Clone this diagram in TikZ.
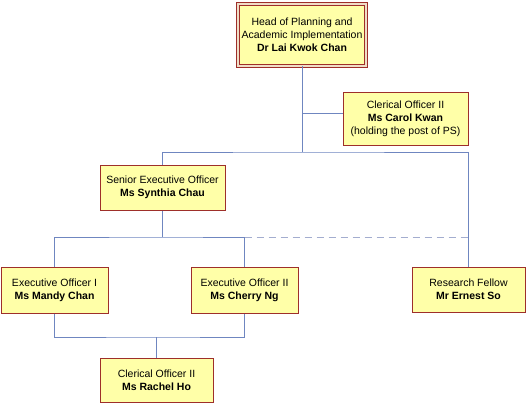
\documentclass[tikz,border=0pt]{standalone}
\usepackage{fontspec}
\setmainfont{Liberation Sans}
\usetikzlibrary{positioning,calc}
\usepackage{xcolor}
\definecolor{orgFill}{HTML}{FFFFA8}
\definecolor{orgRed}{HTML}{9E2F2A}
\definecolor{orgBlue}{HTML}{6F86C0}
\definecolor{orgGrey}{HTML}{A3ADCF}

\begin{document}
\begin{tikzpicture}[x=1pt,y=-1pt]
\tikzstyle{post}=[draw=orgRed,fill=orgFill,line width=1pt,align=center,inner sep=2pt,font=\fontsize{10.5}{13}\selectfont]
\tikzstyle{link}=[draw=orgBlue,line width=1pt]
\useasboundingbox (0,0) rectangle (526,404);
\node[post,minimum width=128pt,minimum height=62pt,double=orgFill!60!orgRed!40,double distance=1.6pt,line width=.9pt] (head) at (302,35) {Head of Planning and\\Academic Implementation\\\textbf{Dr Lai Kwok Chan}};
\node[post,minimum width=125pt,minimum height=53pt] (carol) at (405.5,118.5) {Clerical Officer II\\\textbf{Ms Carol Kwan}\\(holding the post of PS)};
\node[post,minimum width=125pt,minimum height=45pt] (synthia) at (162.5,187.5) {Senior Executive Officer\\\textbf{Ms Synthia Chau}};
\node[post,minimum width=107pt,minimum height=46pt] (mandy) at (54.5,290) {Executive Officer I\\\textbf{Ms Mandy Chan}};
\node[post,minimum width=107pt,minimum height=46pt] (cherry) at (244.5,290) {Executive Officer II\\\textbf{Ms Cherry Ng}};
\node[post,minimum width=113pt,minimum height=45pt] (research) at (468.5,289.5) {Research Fellow\\\textbf{Mr Ernest So}};
\node[post,minimum width=113pt,minimum height=44pt] (rachel) at (156.5,380) {Clerical Officer II\\\textbf{Ms Rachel Ho}};
\coordinate (bus) at (302,152);
\coordinate (jc) at (302,113);
\coordinate (bus2) at (162.5,237);
\coordinate (bus3) at (156.5,337);
% top level
\draw[link] (head.south) -- (bus);
\draw[link] (jc) -- (jc -| carol.west);
\draw[link] (synthia.north) |- (bus) -| (research.north);
% executive officers
\draw[link] (synthia.south) -- (bus2);
\draw[link] (mandy.north) |- (bus2) -| (cherry.north);
\draw[draw=orgGrey,line width=1pt,dash pattern=on 7pt off 5pt] (cherry.north |- bus2) -- (bus2 -| research.north);
% clerical
\draw[link] (mandy.south) |- (bus3) -| (cherry.south);
\draw[link] (bus3) -- (rachel.north);
\end{tikzpicture}
\end{document}
